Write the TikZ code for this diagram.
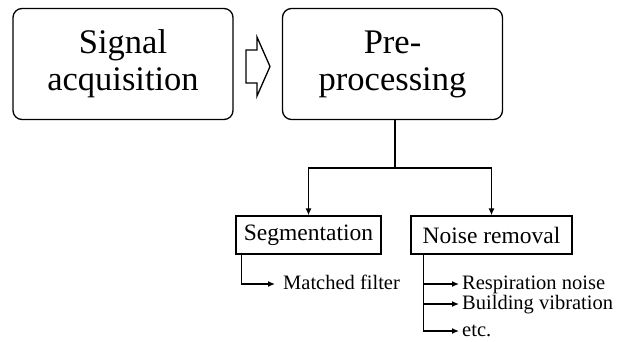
\documentclass[tikz,border=0pt]{standalone}
\usepackage{fontspec}
\setmainfont{Liberation Serif}
\usetikzlibrary{arrows.meta}
\begin{document}
\begin{tikzpicture}[x=1pt,y=-1pt,
  bigbox/.style={draw, line width=1.3pt, rounded corners=9pt,
    minimum width=220pt, minimum height=111pt, align=center,
    font=\fontsize{34.5}{37}\selectfont, inner sep=0pt},
  smallbox/.style={draw, line width=1.3pt, minimum height=38pt,
    font=\fontsize{23.5}{26}\selectfont, inner xsep=5pt, inner ysep=0pt},
  leaf/.style={anchor=west, font=\fontsize{20.5}{22}\selectfont,
    inner sep=0pt, text height=14pt, text depth=4pt},
  wire/.style={line width=1.3pt},
  link/.style={wire, -{Latex[length=7pt,width=6pt]}},
  hollow/.style={draw, line width=1.3pt, fill=white, line join=miter}]
\useasboundingbox (0,0) rectangle (618,341);

% main stages
\node[bigbox] (acq) at (123,64) {Signal\\acquisition};
\node[bigbox] (pre) at (392.5,64) {Pre-\\processing};

% hollow arrow between the stages
\coordinate (h1) at (246,50);
\coordinate (h2) at (257,37);
\coordinate (tip) at (270,66.5);
\coordinate (h3) at (257,96);
\coordinate (h4) at (246,83);
\draw[hollow] (h1) -- (h1 -| h2) -- (h2) -- (tip) -- (h3) -- (h4 -| h3) -- (h4) -- cycle;

% sub-tasks
\node[smallbox, minimum width=145pt] (seg) at (308.5,235) {Segmentation};
\node[smallbox, minimum width=161pt] (noise) at (491.5,235) {Noise removal};

\coordinate (split) at (395,168);
\draw[wire] (pre.south -| split) -- (split);
\draw[link] (split) -| (seg.north);
\draw[link] (split) -| (noise.north);

% methods
\node[leaf] (mf) at (283,284) {Matched filter};
\node[leaf] (resp) at (462,284) {Respiration noise};
\node[leaf] (build) at (462,304) {Building vibration};
\node[leaf] (etc) at (462,331) {etc.};

\draw[link] ([xshift=6pt]seg.south west) |- ([xshift=-8pt]mf.west);
\coordinate (nstem) at ([xshift=13pt]noise.south west);
\draw[link] (nstem) |- ([xshift=-3pt]resp.west);
\draw[link] (nstem) |- ([xshift=-3pt]build.west);
\draw[link] (nstem) |- ([xshift=-3pt]etc.west);
\end{tikzpicture}
\end{document}
